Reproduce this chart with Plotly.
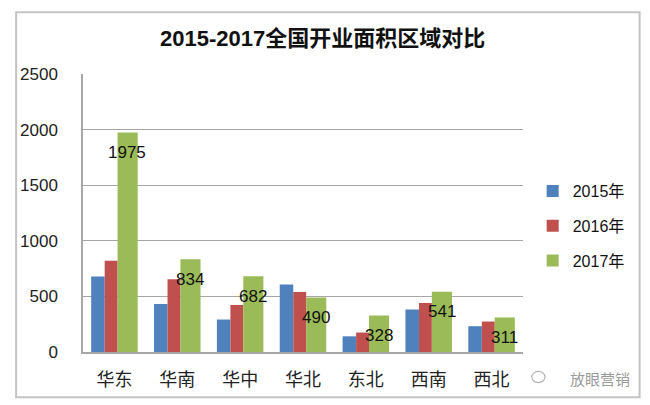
import plotly.graph_objects as go

# region data
regions = ["华东", "华南", "华中", "华北", "东北", "西南", "西北"]
years = ["2015年", "2016年", "2017年"]
area_2015 = [680, 432, 292, 607, 141, 382, 232]
area_2016 = [820, 655, 423, 540, 175, 441, 274]
area_2017 = [1975, 834, 682, 490, 328, 541, 311]

colors = ["#4F81BD", "#C0504D", "#9BBB59"]
# left edge offset and width of each series inside a category slot
offsets = [-0.37, -0.155, 0.05]
widths = [0.215, 0.205, 0.32]

FONT = "Liberation Sans, Noto Sans CJK SC, sans-serif"
CJK = "Noto Sans CJK SC, sans-serif"

fig = go.Figure()
for name, vals, c, off, w in zip(years, [area_2015, area_2016, area_2017], colors, offsets, widths):
    fig.add_trace(go.Bar(
        x=regions, y=vals, name=name,
        marker=dict(color=c, line=dict(width=0)),
        offset=off, width=w, legendgroup=name,
    ))

# value labels on the 2017 bars, sitting a bit under the top
for r, v in zip(regions, area_2017):
    fig.add_annotation(
        x=r, y=v, text=str(v), showarrow=False,
        xshift=13, yshift=-20,
        font=dict(family=FONT, size=17, color="#111111"),
    )

# watermark in the corner
fig.add_annotation(
    xref="paper", yref="paper", x=1.175, y=-0.094,
    xanchor="center", yanchor="middle",
    text="放眼营销", showarrow=False,
    font=dict(family=CJK, size=15, color="#9a9a9a"),
)
fig.add_shape(
    type="circle", xref="paper", yref="paper",
    x0=1.02, x1=1.05, y0=-0.11, y1=-0.07,
    line=dict(color="#b0b0b0", width=1.2),
)

# outer chart frame (excel chart border)
fig.add_shape(
    type="rect", xref="paper", yref="paper",
    x0=-0.152, x1=1.265, y0=-0.163, y1=1.222,
    line=dict(color="#c4c4c4", width=2), layer="above",
)

fig.update_layout(
    width=642, height=397,
    margin=dict(l=69, r=127, t=66, b=53),
    barmode="overlay",
    paper_bgcolor="white", plot_bgcolor="white",
    title=dict(
        text="<b>2015-2017全国开业面积区域对比</b>",
        x=0.49, xref="container", xanchor="center",
        y=1 - 30 / 397, yanchor="middle",
        font=dict(family=FONT, size=22, color="#111111"),
    ),
    legend=dict(
        x=1.022, y=0.64, xanchor="left", yanchor="top",
        font=dict(family=FONT, size=16, color="#111111"),
        tracegroupgap=11, itemwidth=30,
        bgcolor="rgba(0,0,0,0)",
    ),
    showlegend=True,
)
fig.update_xaxes(
    showgrid=False, showline=True, linecolor="#a6a6a6", linewidth=1.5,
    tickfont=dict(family=CJK, size=18, color="#222222"),
    ticklabelstandoff=11,
)
fig.update_yaxes(
    range=[0, 2500], dtick=500, showgrid=True, gridcolor="#a6a6a6", gridwidth=1.2,
    showline=True, linecolor="#a6a6a6", linewidth=1.5, zeroline=False,
    tickfont=dict(family=FONT, size=17, color="#222222"),
    ticklabelstandoff=20,
)

fig.write_html("out.html")
